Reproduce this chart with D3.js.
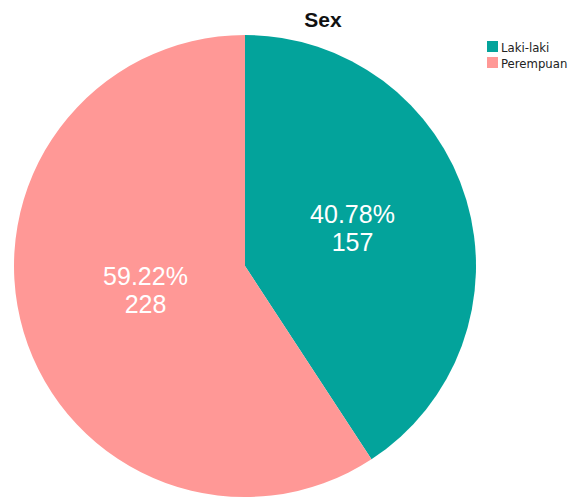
<!DOCTYPE html>
<html lang="en">
<head>
    <meta charset="UTF-8" />
    <title>Sex</title>
    <script src="https://d3js.org/d3.v7.min.js"></script>
    <style>
        body { margin: 0; background: #fff; }
    </style>
</head>
<body>
    <script>
        var categories = ["Laki-laki", "Perempuan"];
        var values = [157, 228];
        var colors = ["#03A39B", "#FF9896"];
        var title = "Sex";

        var w = 573;
        var h = 497;
        var cx = 245, cy = 266, r = 231;

        var total = d3.sum(values);
        var dataset = categories.map(function (c, i) {
            return { name: c, value: values[i] };
        });

        var color = d3.scaleOrdinal().domain(categories).range(colors);

        var svg = d3.select("body")
            .append("svg")
            .attr("width", w)
            .attr("height", h);

        var pie = d3.pie().sort(null).value(function (d) { return d.value; });
        var arc = d3.arc().innerRadius(0).outerRadius(r);
        var labelArc = d3.arc().innerRadius(108).outerRadius(108);

        var g = svg.append("g").attr("transform", "translate(" + cx + "," + cy + ")");

        var slices = g.selectAll("g.slice")
            .data(pie(dataset))
            .enter()
            .append("g")
            .attr("class", "slice");

        slices.append("path")
            .attr("d", arc)
            .attr("fill", function (d) { return color(d.data.name); });

        // two lines: percent over count, each its own text
        var labels = slices.append("g")
            .attr("transform", function (d) {
                var c = labelArc.centroid(d);
                return "translate(" + (c[0] + 4) + "," + (c[1] - 8) + ")";
            });

        labels.append("text")
            .attr("y", -4)
            .attr("text-anchor", "middle")
            .attr("fill", "#fff")
            .attr("font-family", "Liberation Sans, Arial, sans-serif")
            .attr("font-size", "25px")
            .text(function (d) { return (d.data.value / total * 100).toFixed(2) + "%"; });

        labels.append("text")
            .attr("y", 24)
            .attr("text-anchor", "middle")
            .attr("fill", "#fff")
            .attr("font-family", "Liberation Sans, Arial, sans-serif")
            .attr("font-size", "25px")
            .text(function (d) { return d.data.value; });

        svg.append("text")
            .attr("x", 323)
            .attr("y", 27)
            .attr("text-anchor", "middle")
            .attr("font-family", "Liberation Sans, Arial, sans-serif")
            .attr("font-weight", "bold")
            .attr("font-size", "21px")
            .attr("fill", "#111")
            .text(title);

        var legend = svg.selectAll("g.legend")
            .data(categories)
            .enter()
            .append("g")
            .attr("class", "legend")
            .attr("transform", function (d, i) { return "translate(487," + (41 + i * 16) + ")"; });

        legend.append("rect")
            .attr("width", 11)
            .attr("height", 11)
            .attr("fill", function (d) { return color(d); });

        legend.append("text")
            .attr("x", 14)
            .attr("y", 11)
            .attr("font-family", "DejaVu Sans Condensed, Liberation Sans, Arial, sans-serif")
            .attr("font-size", "13px")
            .attr("fill", "#222")
            .text(function (d) { return d; });
    </script>
</body>
</html>
